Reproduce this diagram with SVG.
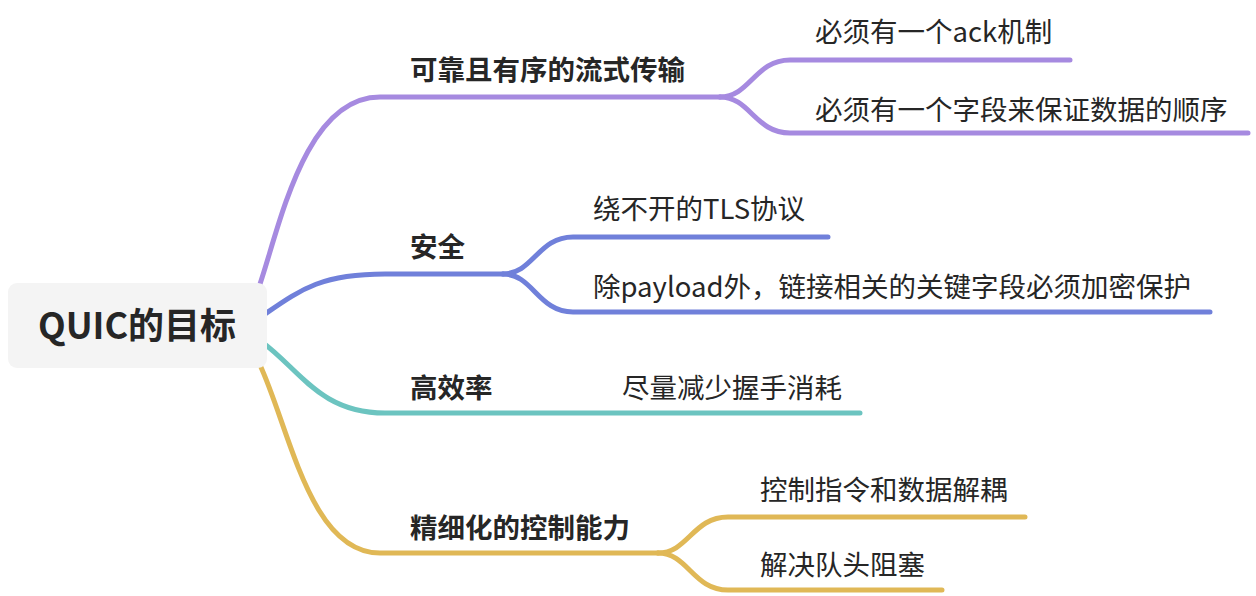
<svg xmlns="http://www.w3.org/2000/svg" width="1256" height="596" viewBox="0 0 1256 596">
<style>
.c{fill:none;stroke-width:5;stroke-linecap:round;stroke-linejoin:round}
.p{stroke:#a68ae0}.b{stroke:#7080da}.t{stroke:#6cc4c0}.g{stroke:#e0b856}
text{font-family:"Noto Sans CJK SC","Noto Sans",sans-serif;fill:#262626}
.m{font-size:27.5px;font-weight:700}
.s{font-size:27.5px;font-weight:400}
.r{font-size:36px;font-weight:700}
</style>
<rect width="1256" height="596" fill="#ffffff"/>
<g id="connectors">
<path class="c p" d="M260,284 C280,225 305,97 380,97 L720,97"/>
<path class="c p" d="M720,97 C750,97 755,60 790,60 L1070,60"/>
<path class="c p" d="M720,97 C750,97 755,133 790,133 L1248,133"/>
<path class="c b" d="M262,316 C300,290 320,274 385,274 L503,274"/>
<path class="c b" d="M503,274 C533,274 538,237 573,237 L828,237"/>
<path class="c b" d="M503,274 C533,274 538,312 573,312 L1210,312"/>
<path class="c t" d="M262,342 C300,370 320,413 385,413 L860,413"/>
<path class="c g" d="M260,365 C290,430 310,553 380,553 L658,553"/>
<path class="c g" d="M658,553 C688,553 693,517 728,517 L1025,517"/>
<path class="c g" d="M658,553 C688,553 693,590 728,590 L942,590"/>
</g>
<g id="root">
<rect x="8" y="283" width="259" height="85" rx="9" fill="#f4f4f4"/>
<text class="r" x="137" y="339" text-anchor="middle">QUIC的目标</text>
</g>
<g id="n1"><text class="m" x="410" y="80">可靠且有序的流式传输</text></g>
<g id="n1a"><text class="s" x="815" y="42">必须有一个ack机制</text></g>
<g id="n1b"><text class="s" x="815" y="120">必须有一个字段来保证数据的顺序</text></g>
<g id="n2"><text class="m" x="410" y="257">安全</text></g>
<g id="n2a"><text class="s" x="593" y="219">绕不开的TLS协议</text></g>
<g id="n2b"><text class="s" x="593" y="297">除payload外，链接相关的关键字段必须加密保护</text></g>
<g id="n3"><text class="m" x="410" y="398">高效率</text></g>
<g id="n3a"><text class="s" x="622" y="398">尽量减少握手消耗</text></g>
<g id="n4"><text class="m" x="410" y="538">精细化的控制能力</text></g>
<g id="n4a"><text class="s" x="760" y="500">控制指令和数据解耦</text></g>
<g id="n4b"><text class="s" x="760" y="575">解决队头阻塞</text></g>
</svg>
